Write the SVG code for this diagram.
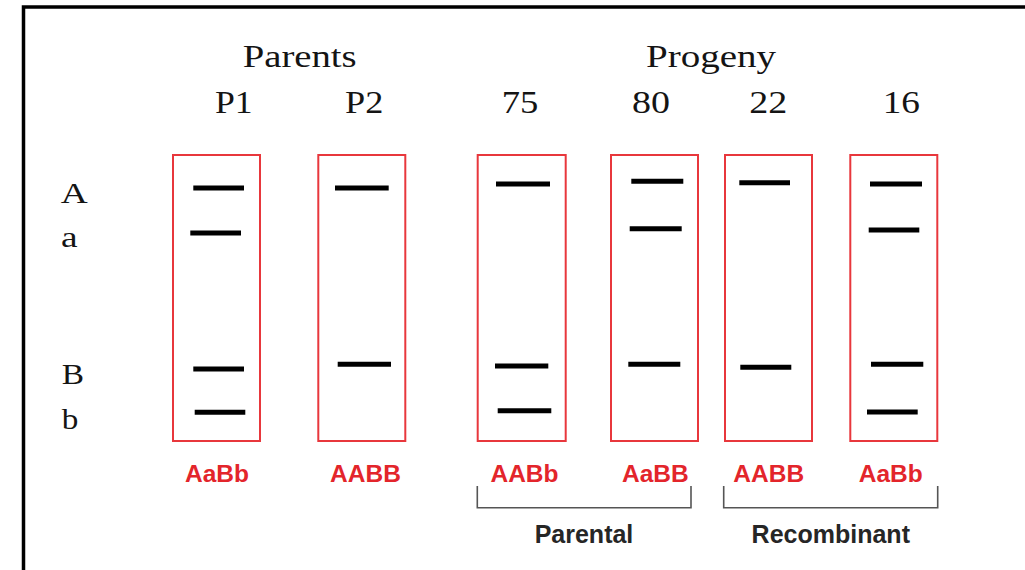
<svg xmlns="http://www.w3.org/2000/svg" width="1025" height="570" viewBox="0 0 1025 570">
<style>
.lane{fill:none;stroke:#e8373c;stroke-width:2}
.band{stroke:#000;stroke-width:5;stroke-linecap:butt}
.serif{font-family:"Liberation Serif","Times New Roman",serif;fill:#141414}
.hdr{font-size:32px}
.allele{font-size:29.5px}
.geno{font-family:"Liberation Sans",Arial,sans-serif;font-weight:bold;font-size:24.5px;fill:#e3252b;text-anchor:middle}
.grp{font-family:"Liberation Sans",Arial,sans-serif;font-weight:bold;font-size:25px;fill:#262626;text-anchor:middle}
.brk{fill:none;stroke:#555;stroke-width:1.6}
</style>
<rect width="1025" height="570" fill="#fff"/>
<rect x="23.5" y="7" width="1100" height="600" fill="none" stroke="#000" stroke-width="3.5"/>

<g id="headers" class="serif hdr">
<text x="242.7" y="66.7" textLength="114" lengthAdjust="spacingAndGlyphs">Parents</text>
<text x="646" y="66.7" textLength="130" lengthAdjust="spacingAndGlyphs">Progeny</text>
<text x="215" y="113.3" textLength="37.7" lengthAdjust="spacingAndGlyphs">P1</text>
<text x="345" y="113.3" textLength="38.3" lengthAdjust="spacingAndGlyphs">P2</text>
<text x="501.7" y="113.3" textLength="36.6" lengthAdjust="spacingAndGlyphs">75</text>
<text x="632" y="113.3" textLength="38" lengthAdjust="spacingAndGlyphs">80</text>
<text x="749.3" y="113.3" textLength="38" lengthAdjust="spacingAndGlyphs">22</text>
<text x="882.7" y="113.3" textLength="37.3" lengthAdjust="spacingAndGlyphs">16</text>
</g>

<g id="alleles" class="serif allele">
<text x="60.7" y="202.7" textLength="27" lengthAdjust="spacingAndGlyphs">A</text>
<text x="61" y="247.3" textLength="16.6" lengthAdjust="spacingAndGlyphs">a</text>
<text x="61.7" y="384" textLength="22.3" lengthAdjust="spacingAndGlyphs">B</text>
<text x="61.7" y="429.3" textLength="16.6" lengthAdjust="spacingAndGlyphs">b</text>
</g>

<g id="lane-P1">
<rect class="lane" x="173" y="155" width="87" height="286"/>
<line class="band" x1="193.3" y1="188" x2="244" y2="188"/>
<line class="band" x1="190.3" y1="233" x2="241" y2="233"/>
<line class="band" x1="193.3" y1="369" x2="244" y2="369"/>
<line class="band" x1="194.7" y1="412.3" x2="245.3" y2="412.3"/>
<text class="geno" x="217" y="481.7">AaBb</text>
</g>
<g id="lane-P2">
<rect class="lane" x="318.3" y="155" width="87" height="286"/>
<line class="band" x1="335" y1="188" x2="388.7" y2="188"/>
<line class="band" x1="337.7" y1="364.3" x2="391" y2="364.3"/>
<text class="geno" x="365.5" y="481.7">AABB</text>
</g>
<g id="lane-75">
<rect class="lane" x="477.7" y="155" width="88" height="286"/>
<line class="band" x1="496" y1="184" x2="550" y2="184"/>
<line class="band" x1="495" y1="366" x2="548.3" y2="366"/>
<line class="band" x1="497.7" y1="410.7" x2="551.3" y2="410.7"/>
<text class="geno" x="524.5" y="481.7">AABb</text>
</g>
<g id="lane-80">
<rect class="lane" x="611" y="155" width="87" height="286"/>
<line class="band" x1="631.3" y1="181.3" x2="683.3" y2="181.3"/>
<line class="band" x1="629.7" y1="228.7" x2="681.7" y2="228.7"/>
<line class="band" x1="628.3" y1="364.3" x2="680.3" y2="364.3"/>
<text class="geno" x="655.3" y="481.7">AaBB</text>
</g>
<g id="lane-22">
<rect class="lane" x="725" y="155" width="87" height="286"/>
<line class="band" x1="739.3" y1="182.7" x2="790" y2="182.7"/>
<line class="band" x1="740.3" y1="367.3" x2="791.3" y2="367.3"/>
<text class="geno" x="768.7" y="481.7">AABB</text>
</g>
<g id="lane-16">
<rect class="lane" x="850.3" y="155" width="87" height="286"/>
<line class="band" x1="870" y1="184" x2="922" y2="184"/>
<line class="band" x1="868.7" y1="230" x2="919.3" y2="230"/>
<line class="band" x1="871" y1="364.3" x2="923.3" y2="364.3"/>
<line class="band" x1="867" y1="412" x2="917.7" y2="412"/>
<text class="geno" x="890.8" y="481.7">AaBb</text>
</g>

<g id="connectors">
<polyline class="brk" points="477.3,486 477.3,507.7 691,507.7 691,486"/>
<polyline class="brk" points="723.7,486 723.7,507.7 937.7,507.7 937.7,486"/>
</g>
<g id="group-labels">
<text class="grp" x="584" y="543.3">Parental</text>
<text class="grp" x="830.8" y="543.3">Recombinant</text>
</g>
</svg>
